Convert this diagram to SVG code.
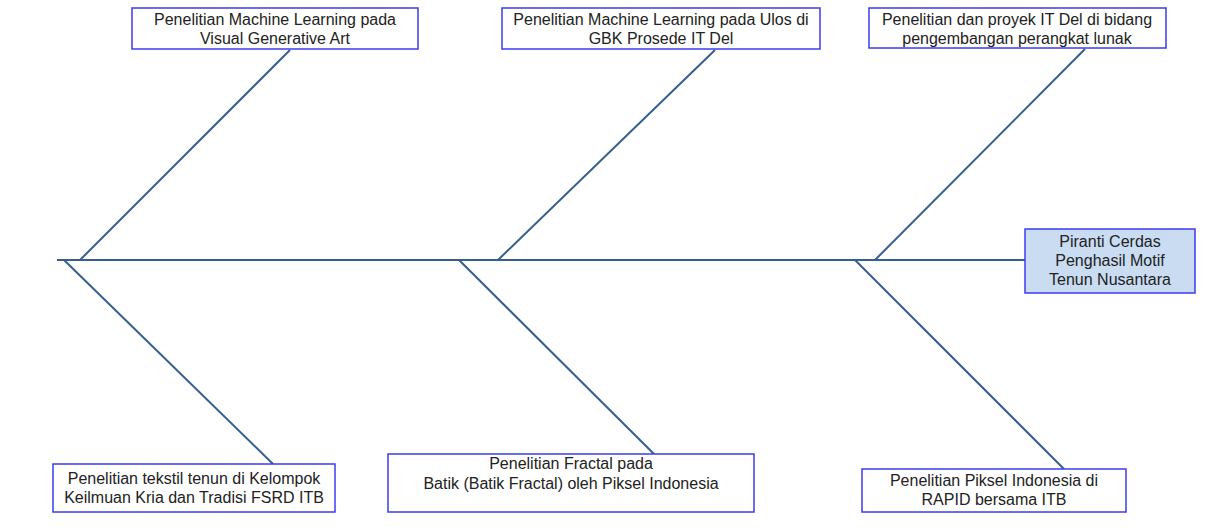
<svg xmlns="http://www.w3.org/2000/svg" width="1211" height="531" viewBox="0 0 1211 531">
<style>
.box{fill:#ffffff;stroke:#3b3bf0;stroke-width:1.5}
.main{fill:#c9dcf2;stroke:#3b3bf0;stroke-width:1.5}
.ln{stroke:#355f8f;stroke-width:2;fill:none}
text{font-family:"Liberation Sans",Arial,sans-serif;font-size:16px;fill:#222222;text-anchor:middle}
</style>
<rect width="1211" height="531" fill="#ffffff"/>
<g id="connectors">
<line class="ln" x1="57" y1="260" x2="1025" y2="260"/>
<line class="ln" x1="80" y1="260" x2="290" y2="50"/>
<line class="ln" x1="498" y1="260" x2="715" y2="50"/>
<line class="ln" x1="875" y1="260" x2="1085" y2="49"/>
<line class="ln" x1="64" y1="260" x2="273" y2="464"/>
<line class="ln" x1="459" y1="260" x2="654" y2="454"/>
<line class="ln" x1="855" y1="260" x2="1064" y2="469"/>
</g>
<g id="top1">
<rect class="box" x="132" y="8" width="286" height="41"/>
<text x="275" y="25">Penelitian Machine Learning pada</text>
<text x="275" y="44">Visual Generative Art</text>
</g>
<g id="top2">
<rect class="box" x="502" y="8" width="318" height="41"/>
<text x="661" y="25">Penelitian Machine Learning pada Ulos di</text>
<text x="661" y="44">GBK Prosede IT Del</text>
</g>
<g id="top3">
<rect class="box" x="869" y="8" width="297" height="40"/>
<text x="1017" y="25">Penelitian dan proyek IT Del di bidang</text>
<text x="1017" y="44">pengembangan perangkat lunak</text>
</g>
<g id="head">
<rect class="main" x="1025" y="229" width="170" height="64"/>
<text x="1110" y="247">Piranti Cerdas</text>
<text x="1110" y="266">Penghasil Motif</text>
<text x="1110" y="285">Tenun Nusantara</text>
</g>
<g id="bot1">
<rect class="box" x="53" y="464" width="282" height="48"/>
<text x="194" y="484">Penelitian tekstil tenun di Kelompok</text>
<text x="194" y="503">Keilmuan Kria dan Tradisi FSRD ITB</text>
</g>
<g id="bot2">
<rect class="box" x="388" y="454" width="366" height="58"/>
<text x="571" y="469">Penelitian Fractal pada</text>
<text x="571" y="489">Batik (Batik Fractal) oleh Piksel Indonesia</text>
</g>
<g id="bot3">
<rect class="box" x="862" y="469" width="264" height="43"/>
<text x="994" y="486">Penelitian Piksel Indonesia di</text>
<text x="994" y="505">RAPID bersama ITB</text>
</g>
</svg>
